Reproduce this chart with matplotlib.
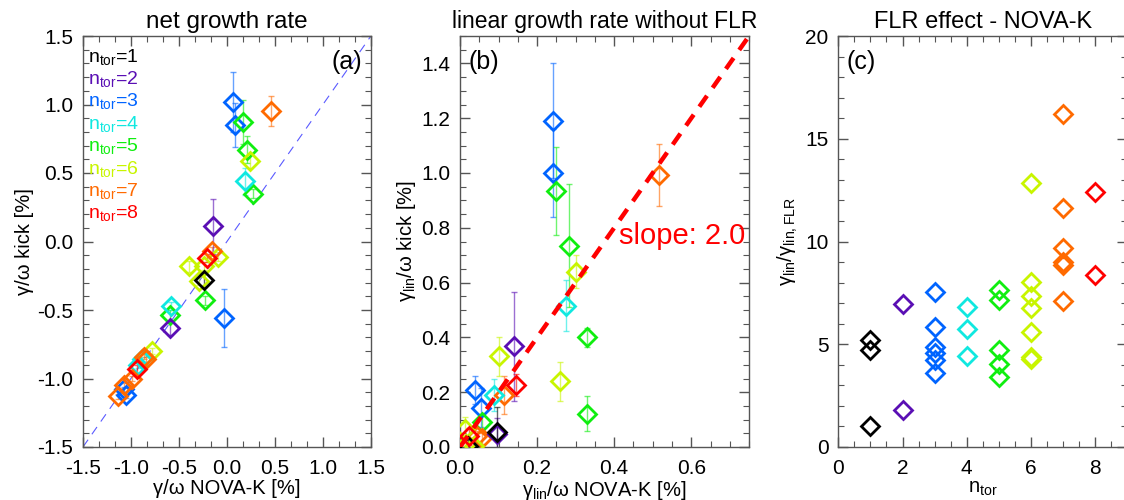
import numpy as np
import matplotlib
matplotlib.use('Agg')
import matplotlib.pyplot as plt
from matplotlib.ticker import MultipleLocator

plt.rcParams['font.family'] = ['Liberation Sans', 'DejaVu Sans']
plt.rcParams['mathtext.fontset'] = 'custom'
plt.rcParams['mathtext.rm'] = 'Liberation Sans'
plt.rcParams['mathtext.it'] = 'Liberation Sans:italic'
plt.rcParams['axes.unicode_minus'] = False

# colour per toroidal mode number
ntor_colors = {1: '#000000', 2: '#5a0fb4', 3: '#0064ff', 4: '#10e8e0',
               5: '#10ee10', 6: '#c8f500', 7: '#ff6a00', 8: '#ff0000'}

# (a) net growth rate: NOVA-K vs kick, with error on kick
a_n = [3, 3, 3, 3, 3,
       5, 5, 5, 5, 5,
       6, 6, 6, 6, 6, 6,
       4, 4, 4, 4,
       7, 7, 7, 7, 7, 7, 7,
       2, 2, 1, 8, 8]
a_x = [0.06, 0.08, -0.03, -1.07, -1.05,
       0.17, 0.21, 0.27, -0.23, -0.59,
       0.24, -0.09, -0.40, -0.24, -0.29, -0.78,
       0.19, -0.58, -0.93, -0.89,
       0.46, -0.16, -0.86, -0.84, -0.99, -1.07, -1.14,
       -0.14, -0.59, -0.24, -0.21, -0.94]
a_y = [1.02, 0.85, -0.56, -1.08, -1.12,
       0.87, 0.67, 0.35, -0.43, -0.54,
       0.59, -0.11, -0.18, -0.18, -0.29, -0.80,
       0.44, -0.47, -0.90, -0.86,
       0.95, -0.07, -0.84, -0.86, -1.00, -1.05, -1.13,
       0.11, -0.63, -0.28, -0.12, -0.93]
a_err = [0.22, 0.16, 0.21, 0.02, 0.02,
         0.16, 0.10, 0.03, 0.03, 0.04,
         0.05, 0.03, 0.04, 0.03, 0.03, 0.02,
         0.10, 0.03, 0.02, 0.02,
         0.11, 0.03, 0.02, 0.02, 0.02, 0.02, 0.02,
         0.20, 0.05, 0.05, 0.03, 0.03]

# (b) linear growth rate without FLR
b_n = [3, 3, 3, 3,
       5, 5, 5, 5, 5,
       7, 7, 7, 7,
       6, 6, 6, 6, 6, 6,
       4, 4,
       2, 2, 1, 1, 8, 8]
b_x = [0.240, 0.240, 0.038, 0.055,
       0.250, 0.283, 0.330, 0.330, 0.057,
       0.516, 0.113, 0.044, 0.057,
       0.300, 0.260, 0.100, 0.014, 0.035, 0.015,
       0.276, 0.087,
       0.140, 0.096, 0.096, 0.020, 0.146, 0.022]
b_y = [1.19, 1.00, 0.208, 0.144,
       0.935, 0.735, 0.40, 0.122, 0.092,
       0.993, 0.19, 0.039, 0.032,
       0.64, 0.24, 0.331, 0.065, 0.005, 0.010,
       0.515, 0.19,
       0.367, 0.046, 0.055, 0.005, 0.225, 0.039]
b_err = [0.21, 0.16, 0.05, 0.07,
         0.16, 0.225, 0.035, 0.065, 0.03,
         0.113, 0.07, 0.02, 0.02,
         0.06, 0.072, 0.072, 0.045, 0.02, 0.02,
         0.093, 0.06,
         0.20, 0.06, 0.09, 0.02, 0.04, 0.03]
slope = 2.0

# (c) FLR effect: gamma_lin / gamma_lin,FLR per n_tor
c_n = [1, 1, 1, 2, 2,
       3, 3, 3, 3, 3, 3,
       4, 4, 4,
       5, 5, 5, 5, 5,
       6, 6, 6, 6, 6, 6, 6,
       7, 7, 7, 7, 7, 7,
       8, 8]
c_ratio = [5.2, 4.7, 1.0, 6.95, 1.8,
           7.55, 5.85, 4.85, 4.55, 4.25, 3.6,
           6.8, 5.75, 4.45,
           7.65, 7.15, 4.7, 4.05, 3.4,
           12.85, 8.05, 7.35, 6.75, 5.6, 4.4, 4.3,
           16.2, 11.65, 9.7, 9.0, 8.85, 7.1,
           12.4, 8.35]

fig = plt.figure(figsize=(11.24, 5.0), dpi=100)
ax_a = fig.add_axes([0.0738, 0.106, 0.2562, 0.822])
ax_b = fig.add_axes([0.4093, 0.106, 0.2571, 0.822])
ax_c = fig.add_axes([0.7458, 0.106, 0.2572, 0.822])

ms = 9.5
mew = 2.0


def style(ax, xmaj, xmin, ymaj, ymin):
    ax.xaxis.set_major_locator(MultipleLocator(xmaj))
    ax.xaxis.set_minor_locator(MultipleLocator(xmin))
    ax.yaxis.set_major_locator(MultipleLocator(ymaj))
    ax.yaxis.set_minor_locator(MultipleLocator(ymin))
    ax.tick_params(which='both', direction='in', top=True, right=True,
                   labelsize=15, color='#555555')
    ax.tick_params(axis='x', which='major', pad=9)
    ax.tick_params(axis='y', which='major', pad=7)
    ax.tick_params(which='major', length=7, width=1)
    ax.tick_params(which='minor', length=4, width=0.8)
    for s in ax.spines.values():
        s.set_color('#555555')
        s.set_linewidth(1)


def scatter_err(ax, ns, xs, ys, errs):
    for n, x, y, e in zip(ns, xs, ys, errs):
        c = ntor_colors[n]
        ax.errorbar(x, y, yerr=e, fmt='none', ecolor=c, elinewidth=1,
                    capsize=2, alpha=0.6, zorder=2)
        ax.plot(x, y, 'D', ms=ms, mfc='none', mec=c, mew=mew, zorder=3)


# panel (a)
ax_a.plot([-1.5, 1.5], [-1.5, 1.5], '--', color='#5a5aff', lw=0.8,
          dashes=(8, 6), zorder=1)
scatter_err(ax_a, a_n, a_x, a_y, a_err)
ax_a.set_xlim(-1.5, 1.5)
ax_a.set_ylim(-1.5, 1.5)
style(ax_a, 0.5, 0.5 / 3, 0.5, 0.1)
ax_a.set_title('net growth rate', fontsize=17.5, pad=6)
ax_a.set_xlabel('γ/ω NOVA-K [%]', fontsize=14.5, labelpad=0)
ax_a.set_ylabel('γ/ω kick [%]', fontsize=14.5, labelpad=2)
ax_a.text(0.97, 0.965, '(a)', transform=ax_a.transAxes, fontsize=18,
          ha='right', va='top')
for i, n in enumerate(sorted(ntor_colors)):
    ax_a.text(0.018, 0.95 - i * 0.0545, r'n$_{\rm tor}$=%d' % n,
              transform=ax_a.transAxes, color=ntor_colors[n], fontsize=14,
              ha='left', va='center')

# panel (b)
xl = np.array([0.0, 0.75])
ax_b.plot(xl, slope * xl, '--', color='#ff0000', lw=3.2, dashes=(3, 2.2),
          zorder=4)
scatter_err(ax_b, b_n, b_x, b_y, b_err)
ax_b.set_xlim(0, 0.75)
ax_b.set_ylim(0, 1.5)
style(ax_b, 0.2, 0.05, 0.2, 0.05)
ax_b.set_title('linear growth rate without FLR', fontsize=16.5, pad=6)
ax_b.set_xlabel(r'γ$_{\rm lin}$/ω NOVA-K [%]', fontsize=14.5, labelpad=0)
ax_b.set_ylabel(r'γ$_{\rm lin}$/ω kick [%]', fontsize=14.5, labelpad=2)
ax_b.text(0.03, 0.965, '(b)', transform=ax_b.transAxes, fontsize=18,
          ha='left', va='top')
ax_b.text(0.413, 0.77, 'slope: %.1f' % slope, color='#ff0000', fontsize=21,
          ha='left', va='center')

# panel (c)
for n, r in zip(c_n, c_ratio):
    ax_c.plot(n, r, 'D', ms=ms, mfc='none', mec=ntor_colors[n], mew=mew)
ax_c.set_xlim(0, 9)
ax_c.set_ylim(0, 20)
style(ax_c, 2, 0.5, 5, 1)
ax_c.set_title('FLR effect - NOVA-K', fontsize=17, pad=6)
ax_c.set_xlabel(r'n$_{\rm tor}$', fontsize=14.5, labelpad=0)
ax_c.set_ylabel(r'γ$_{\rm lin}$/γ$_{\rm lin,FLR}$', fontsize=14.5, labelpad=4)
ax_c.text(0.03, 0.965, '(c)', transform=ax_c.transAxes, fontsize=18,
          ha='left', va='top')

fig.savefig('out.png', dpi=100)
